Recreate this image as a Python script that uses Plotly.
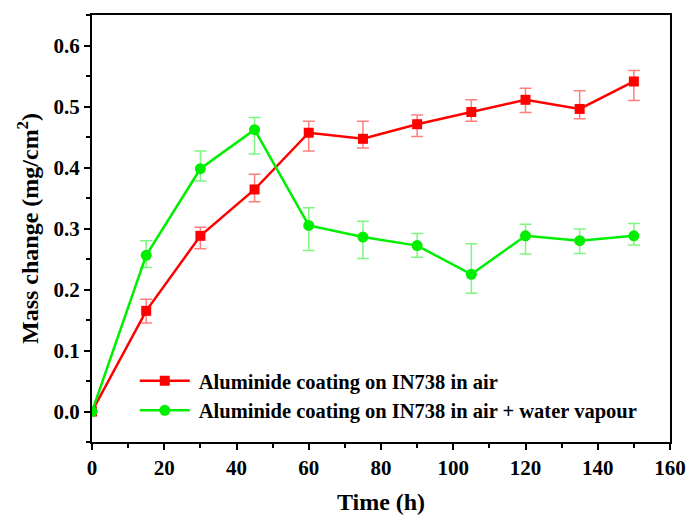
import plotly.graph_objects as go

time_h = [0, 15, 30, 45, 60, 75, 90, 105, 120, 135, 150]

air_mass = [0.0, 0.165, 0.288, 0.364, 0.457, 0.447, 0.471, 0.491, 0.511, 0.496, 0.541]
air_err_plus = [0.0, 0.019, 0.014, 0.025, 0.019, 0.029, 0.015, 0.020, 0.019, 0.030, 0.018]
air_err_minus = [0.0, 0.020, 0.021, 0.020, 0.030, 0.015, 0.020, 0.015, 0.021, 0.016, 0.031]

vap_mass = [0.0, 0.256, 0.398, 0.462, 0.305, 0.286, 0.272, 0.225, 0.288, 0.280, 0.288]
vap_err_plus = [0.0, 0.024, 0.029, 0.020, 0.029, 0.026, 0.020, 0.050, 0.019, 0.019, 0.020]
vap_err_minus = [0.0, 0.020, 0.020, 0.040, 0.041, 0.035, 0.019, 0.031, 0.030, 0.021, 0.015]

x_ticks = [0, 20, 40, 60, 80, 100, 120, 140, 160]
y_ticks = [0.0, 0.1, 0.2, 0.3, 0.4, 0.5, 0.6]

font_family = "Liberation Serif, Times New Roman, serif"

fig = go.Figure()
fig.add_trace(go.Scatter(
    x=time_h, y=air_mass, mode="lines+markers",
    name="<b> Aluminide coating on IN738 in air</b>",
    line=dict(color="#ff0000", width=2.5),
    marker=dict(symbol="square", size=10, color="#ff0000"),
    error_y=dict(type="data", symmetric=False, array=air_err_plus, arrayminus=air_err_minus,
                 color="rgba(255,0,0,0.5)", thickness=1.5, width=6),
))
fig.add_trace(go.Scatter(
    x=time_h, y=vap_mass, mode="lines+markers",
    name="<b> Aluminide coating on IN738 in air + water vapour</b>",
    line=dict(color="#00ee00", width=2.5),
    marker=dict(symbol="circle", size=11, color="#00ee00"),
    error_y=dict(type="data", symmetric=False, array=vap_err_plus, arrayminus=vap_err_minus,
                 color="rgba(0,238,0,0.5)", thickness=1.5, width=6),
))

axis_common = dict(
    showline=True, linecolor="black", linewidth=2, mirror=True,
    ticks="outside", ticklen=6, tickwidth=2, tickcolor="black",
    showgrid=False, zeroline=False, automargin=False,
    tickfont=dict(family=font_family, size=21, color="black", weight="bold"),
)

fig.update_xaxes(
    range=[0, 160], tickvals=x_ticks, ticktext=[f"<b>{v}</b>" for v in x_ticks],
    minor=dict(ticks="outside", ticklen=4, tickwidth=1.5, tickcolor="black", dtick=10, tick0=0),
    title=dict(text="<b>Time (h)</b>", font=dict(family=font_family, size=24, color="black"), standoff=16),
    **axis_common,
)
fig.update_yaxes(
    range=[-0.05, 0.65], tickvals=y_ticks, ticktext=[f"<b>{v:.1f}</b>" for v in y_ticks],
    minor=dict(ticks="outside", ticklen=4, tickwidth=1.5, tickcolor="black", dtick=0.05, tick0=0),
    title=dict(text="<b>Mass change (mg/cm<sup>2</sup>)</b>", font=dict(family=font_family, size=24, color="black"), standoff=8),
    **axis_common,
)

fig.update_layout(
    width=687, height=515,
    margin=dict(l=92, r=17, t=15, b=73),
    plot_bgcolor="white", paper_bgcolor="white",
    font=dict(family=font_family, color="black"),
    legend=dict(
        x=0.074, y=0.19, xanchor="left", yanchor="top",
        font=dict(family=font_family, size=20.5, color="black"),
        bgcolor="rgba(0,0,0,0)", itemwidth=50, tracegroupgap=0,
    ),
)

fig.write_html("out.html")
